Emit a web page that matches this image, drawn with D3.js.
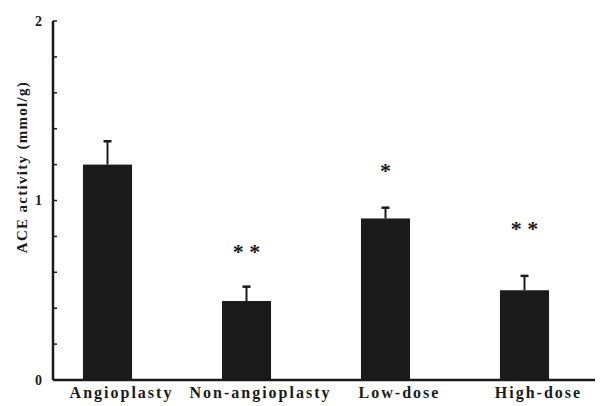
<!DOCTYPE html>
<html>
<head>
<meta charset="utf-8">
<script src="https://cdn.jsdelivr.net/npm/d3@7.8.5/dist/d3.min.js"></script>
<style>
  html, body { margin: 0; padding: 0; background: #fff; }
  svg { display: block; }
  text { font-family: "Liberation Serif", "DejaVu Serif", serif; font-weight: bold; fill: #1a1a1a; }
</style>
</head>
<body>
<svg id="chart" width="601" height="406"></svg>
<script>
// data
const groups = ['Angioplasty', 'Non-angioplasty', 'Low-dose', 'High-dose'];
const means = [1.20, 0.44, 0.90, 0.50];
const errs = [0.13, 0.08, 0.06, 0.08];
const marks = ['', '* *', '*', '* *'];
const markLevel = [null, 0.74, 1.19, 0.87];
const yTicks = [0, 0.2, 0.4, 0.6, 0.8, 1, 1.2, 1.4, 1.6, 1.8, 2];
const yLabels = [0, 1, 2];

const ink = '#1a1a1a';
const svg = d3.select('#chart');
const margin = { left: 53, right: 6, top: 21, bottom: 26 };
const W = 601, H = 406;

const x = d3.scaleBand()
    .domain(groups)
    .range([38, 594])
    .paddingInner(0.647)
    .paddingOuter(0.3235);

const y = d3.scaleLinear()
    .domain([0, 2])
    .range([H - margin.bottom, margin.top]);

const g = svg.append('g');

// bars
g.selectAll('.bar')
    .data(groups)
    .enter()
    .append('rect')
    .attr('class', 'bar')
    .attr('x', d => x(d))
    .attr('y', (d, i) => y(means[i]))
    .attr('width', x.bandwidth())
    .attr('height', (d, i) => y(0) - y(means[i]))
    .attr('fill', ink);

// error bars (upper only)
const eb = g.selectAll('.err')
    .data(groups)
    .enter()
    .append('g')
    .attr('class', 'err');

eb.append('line')
    .attr('x1', d => x(d) + x.bandwidth() / 2)
    .attr('x2', d => x(d) + x.bandwidth() / 2)
    .attr('y1', (d, i) => y(means[i]))
    .attr('y2', (d, i) => y(means[i] + errs[i]))
    .attr('stroke', ink)
    .attr('stroke-width', 2);

eb.append('line')
    .attr('x1', d => x(d) + x.bandwidth() / 2 - 4)
    .attr('x2', d => x(d) + x.bandwidth() / 2 + 4)
    .attr('y1', (d, i) => y(means[i] + errs[i]))
    .attr('y2', (d, i) => y(means[i] + errs[i]))
    .attr('stroke', ink)
    .attr('stroke-width', 2.5);

// significance marks
g.selectAll('.mark')
    .data(groups.filter((d, i) => marks[i]))
    .enter()
    .append('text')
    .attr('class', 'mark')
    .attr('x', d => x(d) + x.bandwidth() / 2)
    .attr('y', d => y(markLevel[groups.indexOf(d)]) + 12)
    .attr('text-anchor', 'middle')
    .style('font-size', '22px')
    .text(d => marks[groups.indexOf(d)]);

// y axis: line, inward ticks, labels at 0/1/2
g.append('line')
    .attr('x1', margin.left).attr('x2', margin.left)
    .attr('y1', y(2)).attr('y2', y(0))
    .attr('stroke', ink)
    .attr('stroke-width', 2.5);

g.selectAll('.ytick')
    .data(yTicks)
    .enter()
    .append('line')
    .attr('class', 'ytick')
    .attr('x1', margin.left)
    .attr('x2', margin.left + 4)
    .attr('y1', d => y(d))
    .attr('y2', d => y(d))
    .attr('stroke', ink)
    .attr('stroke-width', 1.5);

g.selectAll('.ylab')
    .data(yLabels)
    .enter()
    .append('text')
    .attr('class', 'ylab')
    .attr('x', margin.left - 11)
    .attr('y', d => y(d))
    .attr('dy', '0.35em')
    .attr('text-anchor', 'end')
    .style('font-size', '14px')
    .text(d => d);

// x axis baseline
g.append('line')
    .attr('x1', margin.left)
    .attr('x2', W - margin.right)
    .attr('y1', y(0)).attr('y2', y(0))
    .attr('stroke', ink)
    .attr('stroke-width', 2.5);

g.selectAll('.xlab')
    .data(groups)
    .enter()
    .append('text')
    .attr('class', 'xlab')
    .attr('x', d => x(d) + x.bandwidth() / 2 + 14)
    .attr('y', y(0) + 18)
    .attr('text-anchor', 'middle')
    .style('font-size', '16px')
    .style('letter-spacing', '2px')
    .text(d => d);

// y axis title
svg.append('text')
    .attr('transform', `translate(27, 167) rotate(-90)`)
    .attr('text-anchor', 'middle')
    .style('font-size', '15px')
    .style('letter-spacing', '1.3px')
    .text('ACE activity (mmol/g)');
</script>
</body>
</html>
